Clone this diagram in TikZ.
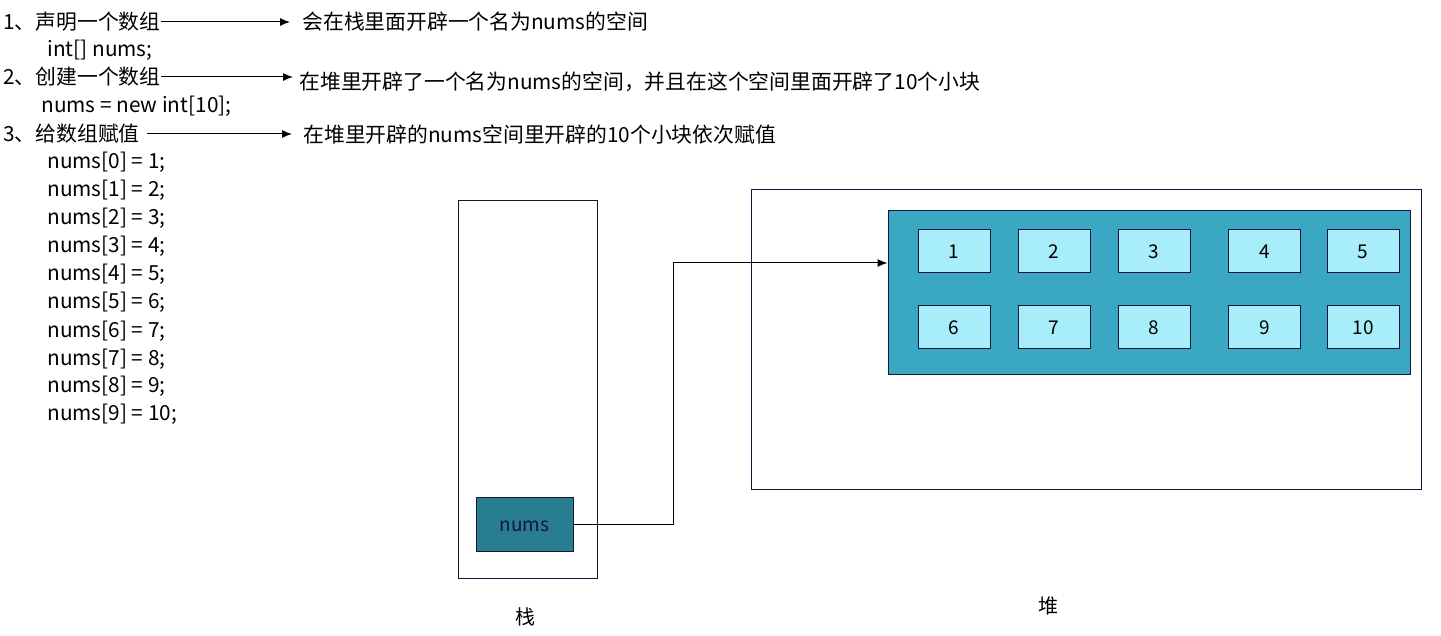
\documentclass[tikz,border=0pt]{standalone}
\usepackage{fontspec}
\setmainfont{Noto Sans CJK SC}
\usepackage{tikz}
\usetikzlibrary{arrows.meta,positioning}

\definecolor{NavyDark}{RGB}{20,20,60}
\definecolor{NumsTeal}{RGB}{40,126,142}
\definecolor{HeapTeal}{RGB}{58,168,194}
\definecolor{CellBlue}{RGB}{168,238,250}

\begin{document}
\begin{tikzpicture}[x=0.5pt, y=-0.5pt,
    text style/.style={anchor=west, inner sep=0pt, text height=9pt, text depth=1pt, font=\fontsize{10.4}{12}\selectfont},
    box style/.style={draw=NavyDark, line width=0.5pt, inner sep=0pt},
    cell style/.style={box style, fill=CellBlue, minimum width=36pt, minimum height=21.5pt, font=\fontsize{9.5}{11}\selectfont},
    link style/.style={-{Latex[length=5pt,width=4pt]}, line width=0.5pt}
]
\useasboundingbox (0,0) rectangle (1441,636);

% statements on the left
\node[text style] (s1) at (3,22) {1、声明一个数组};
\node[text style] (c1) at (47,49) {int[] nums;};
\node[text style] (s2) at (3,77) {2、创建一个数组};
\node[text style] (c2) at (41,105) {nums = new int[10];};
\node[text style] (s3) at (3,134) {3、给数组赋值};
\foreach \i [evaluate=\i as \v using int(\i+1)] in {0,...,9}
    \node[text style] (a\i) at (47,161+28*\i) {nums[\i] = \v;};

% what each statement does
\node[text style] (d1) at (302,22) {会在栈里面开辟一个名为nums的空间};
\node[text style] (d2) at (299,82) {在堆里开辟了一个名为nums的空间，并且在这个空间里面开辟了10个小块};
\node[text style] (d3) at (303,135) {在堆里开辟的nums空间里开辟的10个小块依次赋值};

\draw[link style, shorten >=6pt] (s1.east) -- (d1.west |- s1);
\draw[link style, shorten >=3pt] (s2.east) -- (d2.west |- s2);
\draw[link style, shorten <=3.5pt, shorten >=5.5pt] (s3.east) -- (d3.west |- s3);

% stack
\node[box style, minimum width=69.5pt, minimum height=188.5pt] (stack) at (527.5,389.5) {};
\node[box style, fill=NumsTeal, minimum width=48.5pt, minimum height=27pt, text=NavyDark,
      text height=7pt, text depth=0pt, font=\fontsize{9.5}{11}\selectfont] (numsbox) at (524.5,524) {nums};
\node[font=\fontsize{10}{12}\selectfont] (stacklabel) at (525,617) {栈};

% heap
\node[box style, minimum width=335pt, minimum height=149.5pt] (heap) at (1086,339.5) {};
\node[box style, fill=HeapTeal, minimum width=261pt, minimum height=82pt] (space) at (1149,293) {};
\node[font=\fontsize{10}{12}\selectfont] (heaplabel) at (1048,606) {堆};

\node[cell style] (b1) at (954,251.5) {1};
\node[cell style] (b2) at (1054,251.5) {2};
\node[cell style] (b3) at (1154,251.5) {3};
\node[cell style] (b4) at (1264.5,251.5) {4};
\node[cell style] (b5) at (1363,251.5) {5};
\node[cell style] (b6) at (954,327.5) {6};
\node[cell style] (b7) at (1054,327.5) {7};
\node[cell style] (b8) at (1154,327.5) {8};
\node[cell style] (b9) at (1264.5,327.5) {9};
\node[cell style] (b10) at (1363,327.5) {10};

% reference from stack to heap
\coordinate (bend) at (673,263);
\draw[link style] (numsbox.east) -| (bend) -- (bend -| space.west);
\end{tikzpicture}
\end{document}
